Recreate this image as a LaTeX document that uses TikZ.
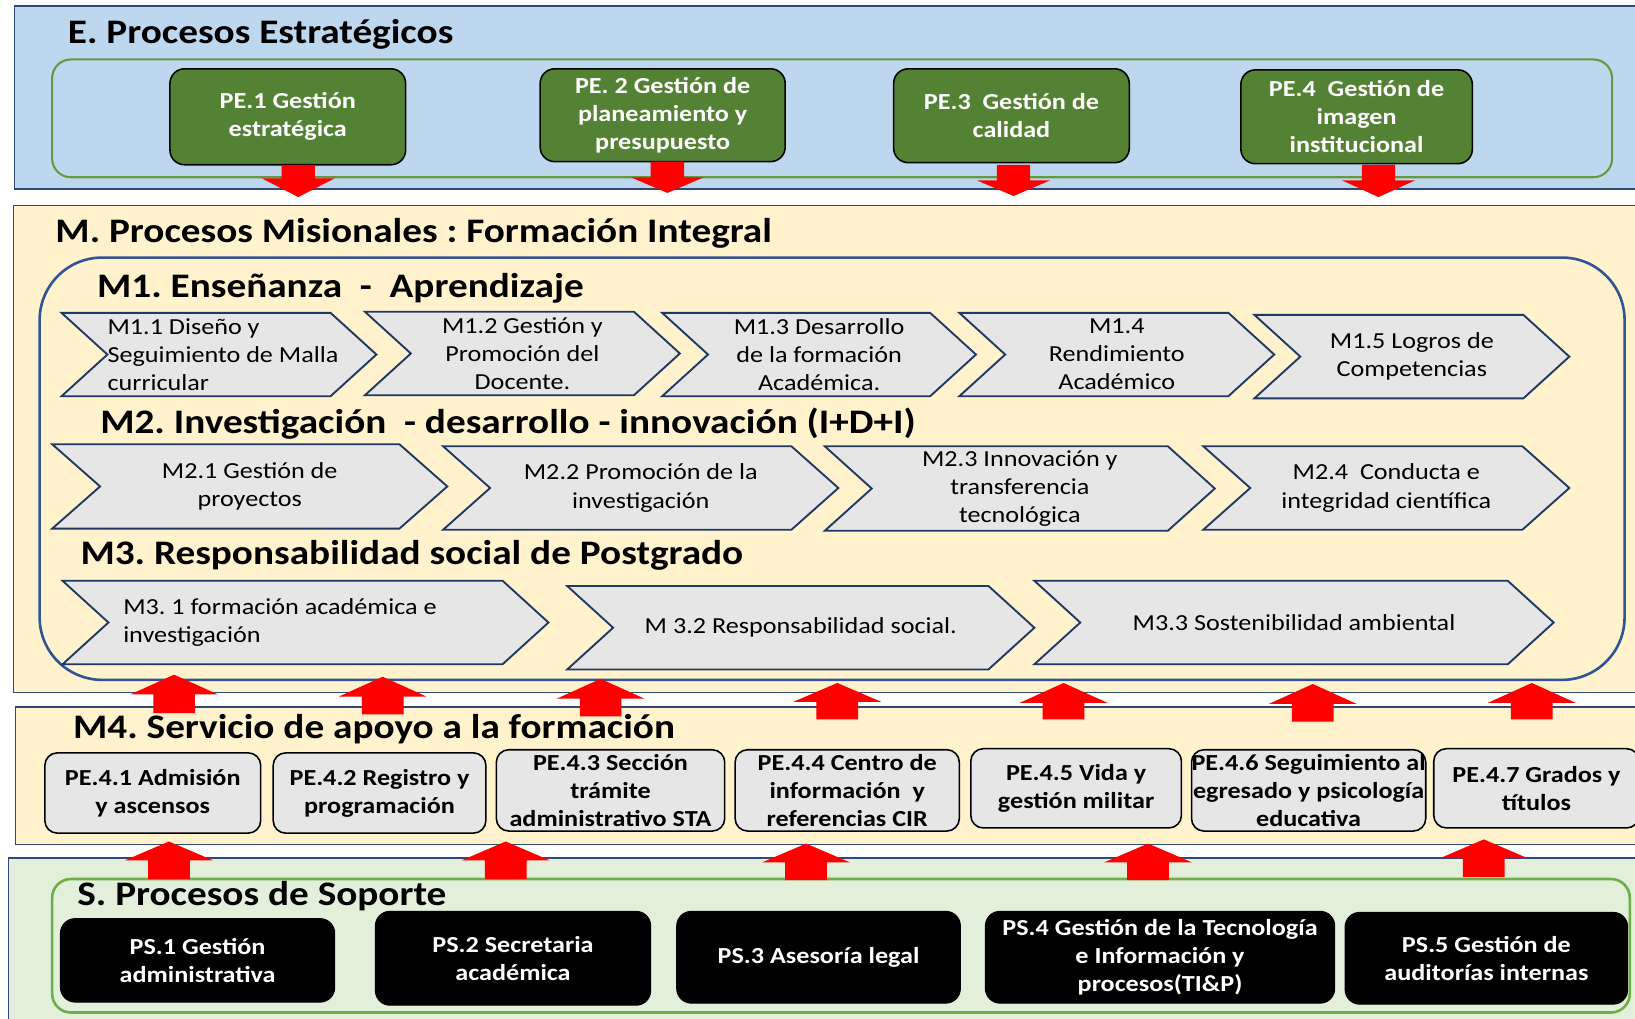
\documentclass[tikz,border=0pt]{standalone}
\usepackage{fontspec}
\setmainfont{Carlito}[FakeStretch=1.14]
\definecolor{eblue}{HTML}{BDD7EE}
\definecolor{myellow}{HTML}{FFF2CC}
\definecolor{sgreen}{HTML}{E2EFDA}
\definecolor{pegreen}{HTML}{548235}
\definecolor{glineE}{HTML}{669944}
\definecolor{glineS}{HTML}{70AD47}
\definecolor{panelb}{HTML}{2F4A78}
\definecolor{innerb}{HTML}{2F5597}
\definecolor{chevb}{HTML}{1F3864}
\definecolor{chevf}{HTML}{E7E6E6}
\definecolor{boxg}{HTML}{E6E6E6}
\definecolor{arrred}{HTML}{FF0000}
\newcommand\boxfont{\fontsize{22}{27}\selectfont}
\newcommand\titfont{\fontsize{33}{40}\selectfont}
\frenchspacing
\tikzset{
  panel/.style={draw=panelb, line width=1.5pt},
  titlenode/.style={anchor=base west, inner sep=0pt, font=\bfseries\titfont},
  pebox/.style={draw=black, line width=1.5pt, fill=pegreen, rounded corners=14pt, text=white, font=\bfseries\boxfont, align=center, inner sep=0pt},
  graybox/.style={draw=black, line width=1.5pt, fill=boxg, rounded corners=12pt, text=black, font=\bfseries\boxfont, align=center, inner sep=0pt},
  psbox/.style={draw=black, line width=1pt, fill=black, rounded corners=14pt, text=white, font=\bfseries\boxfont, align=center, inner sep=0pt},
  chevron/.style={draw=chevb, line width=1.8pt, fill=chevf, line join=miter},
  chevtext/.style={font=\boxfont, align=center, inner sep=0pt},
  chevtextl/.style={font=\boxfont, align=left, inner sep=0pt, anchor=west},
  blockarrow/.style={fill=arrred}
}
% box: style, name, x1, y1, x2, y2, text
\newcommand\bx[7]{\node[#1, minimum width={(#5-#3)*1pt}, minimum height={(#6-#4)*1pt}] (#2) at ({(#3+#5)/2},{(#4+#6)/2}) {#7};}
% chevron shape: name, x1, y1, x2, y2, depth
\newcommand\chev[6]{%
  \draw[chevron] (#2,#3) -- ({#4-#6},#3) -- (#4,{(#3+#5)/2}) -- ({#4-#6},#5) -- (#2,#5) -- ({#2+#6},{(#3+#5)/2}) -- cycle;
  \coordinate (#1) at ({(#2+#4)/2},{(#3+#5)/2});}
% down arrow: cx, top, base, tip
\newcommand\downarr[4]{%
  \fill[blockarrow] ({#1-16},#2) -- ({#1+16},#2) -- ({#1+16},#3) -- ({#1+35},#3) -- (#1,#4) -- ({#1-35},#3) -- ({#1-16},#3) -- cycle;}
% up arrow: cx, tip, base, bottom
\newcommand\uparr[4]{%
  \fill[blockarrow] ({#1-20},#4) -- ({#1+20},#4) -- ({#1+20},#3) -- ({#1+42},#3) -- (#1,#2) -- ({#1-42},#3) -- ({#1-20},#3) -- cycle;}
\begin{document}
\begin{tikzpicture}[x=1pt,y=-1pt]
\useasboundingbox (0,0) rectangle (1568,977);
\clip (0,0) rectangle (1568,977);
\fill[white] (0,0) rectangle (1568,977);

% ---------- panels
\draw[panel, fill=eblue] (14,6) rectangle (1590,181);
\draw[panel, fill=myellow] (13,197) rectangle (1590,664);
\draw[panel, fill=myellow] (15,678) rectangle (1590,810);
\draw[panel, fill=sgreen] (8,823) rectangle (1590,995);

\draw[glineE, line width=2pt, rounded corners=18pt] (50,57) rectangle (1546,170);
\draw[innerb, line width=2.5pt, rounded corners=60pt] (38,247) rectangle (1558,652);
\draw[glineS, line width=2.5pt, rounded corners=18pt] (50,843) rectangle (1563,971);

% ---------- titles
\node[titlenode] (tE) at (65,42) {E. Procesos Estratégicos};
\node[titlenode] (tM) at (53,233) {M. Procesos Misionales : Formación Integral};
\node[titlenode] (tM1) at (93,285) {M1. Enseñanza\ \ -\ \ Aprendizaje};
\node[titlenode] (tM2) at (96,416) {M2. Investigación\ \ - desarrollo - innovación (I+D+I)};
\node[titlenode] (tM3) at (77,541) {M3. Responsabilidad social de Postgrado};
\node[titlenode] (tM4) at (70,708) {M4. Servicio de apoyo a la formación};
\node[titlenode] (tS) at (74,868) {S. Procesos de Soporte};

% ---------- strategic boxes
\bx{pebox}{pe1}{163}{66}{389}{158}{PE.1 Gestión\\estratégica}
\bx{pebox}{pe2}{518}{66}{753}{155}{PE. 2 Gestión de\\planeamiento y\\presupuesto}
\bx{pebox}{pe3}{857}{66}{1083}{156}{PE.3~ Gestión de\\calidad}
\bx{pebox}{pe4}{1190}{67}{1412}{157}{PE.4~ Gestión de\\imagen\\institucional}

% ---------- M1 chevrons
\chev{m11}{59}{300}{361}{380}{44}
\node[chevtextl] (m11t) at (103,340) {M1.1 Diseño y\\Seguimiento de Malla\\curricular};
\chev{m12}{350}{299}{652}{379}{44}
\node[chevtext] (m12t) at (m12) {M1.2 Gestión y\\Promoción del\\Docente.};
\chev{m13}{635}{300}{936}{380}{44}
\node[chevtext] (m13t) at (m13) {M1.3 Desarrollo\\de la formación\\Académica.};
\chev{m14}{920}{300}{1222}{380}{44}
\node[chevtext] (m14t) at (m14) {M1.4\\Rendimiento\\Académico};
\chev{m15}{1203}{302}{1505}{382}{44}
\node[chevtext] (m15t) at (m15) {M1.5 Logros de\\Competencias};

% ---------- M2 chevrons
\chev{m21}{50}{426}{429}{507}{46}
\node[chevtext] (m21t) at (m21) {M2.1 Gestión de\\proyectos};
\chev{m22}{425}{428}{804}{508}{45}
\node[chevtext] (m22t) at (m22) {M2.2 Promoción de la\\investigación};
\chev{m23}{791}{428}{1165}{509}{45}
\node[chevtext] (m23t) at (m23) {M2.3 Innovación y\\transferencia\\tecnológica};
\chev{m24}{1154}{428}{1505}{508}{45}
\node[chevtext] (m24t) at (m24) {M2.4~ Conducta e\\integridad científica};

% ---------- M3 chevrons
\chev{m31}{60}{557}{526}{637}{44}
\node[chevtextl] (m31t) at (118,597) {M3. 1 formación académica e\\investigación};
\chev{m32}{544}{562}{992}{642}{44}
\node[chevtext] (m32t) at (m32) {M 3.2 Responsabilidad social.};
\chev{m33}{992}{557}{1490}{637}{44}
\node[chevtext] (m33t) at (m33) {M3.3 Sostenibilidad ambiental};

% ---------- M4 boxes
\bx{graybox}{p41}{43}{722}{250}{799}{PE.4.1 Admisión\\y ascensos}
\bx{graybox}{p42}{262}{722}{466}{799}{PE.4.2 Registro y\\programación}
\bx{graybox}{p43}{476}{719}{695}{797}{PE.4.3 Sección\\trámite\\administrativo STA}
\bx{graybox}{p44}{705}{719}{920}{797}{PE.4.4 Centro de\\información~ y\\referencias CIR}
\bx{graybox}{p45}{931}{718}{1133}{794}{PE.4.5 Vida y\\gestión militar}
\bx{graybox}{p46}{1143}{719}{1367}{797}{PE.4.6 Seguimiento al\\egresado y psicología\\educativa}
\bx{graybox}{p47}{1375}{718}{1572}{794}{PE.4.7 Grados y\\títulos}

% ---------- support boxes
\bx{psbox}{ps1}{58}{881}{321}{961}{PS.1 Gestión\\administrativa}
\bx{psbox}{ps2}{360}{874}{624}{964}{PS.2 Secretaria\\académica}
\bx{psbox}{ps3}{649}{874}{921}{962}{PS.3 Asesoría legal}
\bx{psbox}{ps4}{945}{874}{1280}{962}{PS.4 Gestión de la Tecnología\\e Información y\\procesos(TI\&P)}
\bx{psbox}{ps5}{1290}{875}{1561}{963}{PS.5 Gestión de\\auditorías internas}

% ---------- arrows E -> M
\downarr{286}{158}{171}{189}
\downarr{640}{155}{170}{185}
\downarr{972}{158}{173}{188}
\downarr{1322}{158}{173}{189}

% ---------- arrows M4 -> M
\uparr{167}{647}{666}{684}
\uparr{367}{649}{668}{685}
\uparr{576}{651}{670}{687}
\uparr{803}{655}{673}{690}
\uparr{1020}{655}{674}{690}
\uparr{1259}{656}{675}{692}
\uparr{1469}{655}{674}{690}

% ---------- arrows S -> M4
\uparr{162}{807}{825}{843}
\uparr{485}{807}{825}{843}
\uparr{773}{809}{827}{844}
\uparr{1101}{809}{827}{844}
\uparr{1423}{805}{823}{841}
\end{tikzpicture}
\end{document}
